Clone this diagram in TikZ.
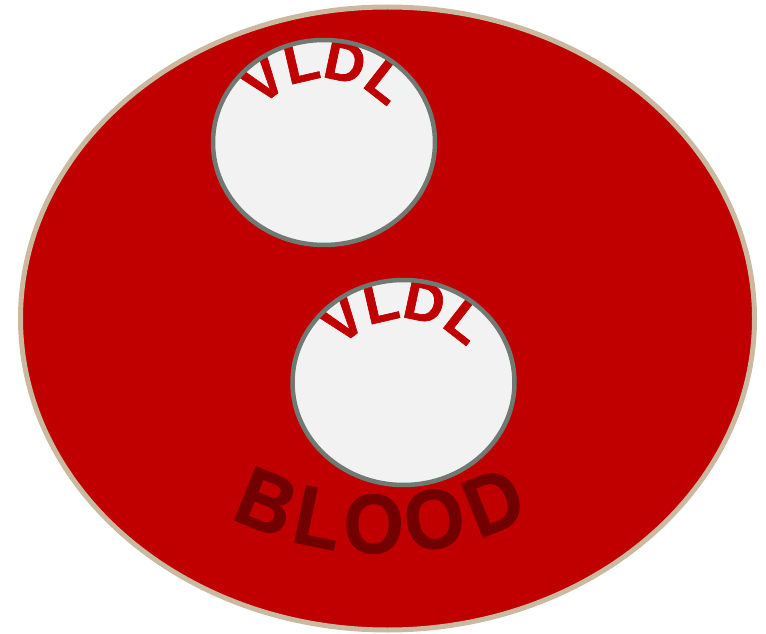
\documentclass[tikz,border=0pt]{standalone}
\usepackage{fontspec}
\setmainfont{Liberation Sans}
\newfontfamily\heavyfont[FakeBold=1.2]{Liberation Sans Bold}
\definecolor{bloodred}{HTML}{C00000}
\definecolor{darkblood}{HTML}{730000}
\definecolor{rimtan}{HTML}{C9B9A1}
\definecolor{cellgray}{HTML}{6E7A72}
\definecolor{cellfill}{HTML}{F2F2F2}
\tikzset{
  vldlletter/.style={inner sep=0pt, outer sep=0pt, anchor=base, text=bloodred,
    font=\heavyfont\fontsize{56}{56}\selectfont},
  bloodletter/.style={inner sep=0pt, outer sep=0pt, anchor=base, text=darkblood,
    font=\heavyfont\fontsize{84}{84}\selectfont},
  cellrim/.style={draw=cellgray, line width=4.5pt},
}
\begin{document}
\begin{tikzpicture}[x=1pt,y=1pt]
\useasboundingbox (0,0) rectangle (766,633);
% blood
\fill[bloodred] (387.5,314.5) ellipse [x radius=367, y radius=311.5];
\draw[rimtan, line width=5pt] (387.5,314.5) ellipse [x radius=367, y radius=311.5];
% cells
\coordinate (c1) at (324,490.5);
\coordinate (c2) at (403.5,250.5);
\coordinate (a1) at (324,472);
\coordinate (a2) at (403.5,232);
\fill[cellfill] (c1) ellipse [x radius=111, y radius=102.5];
\fill[cellfill] (c2) ellipse [x radius=111, y radius=102.5];
% VLDL labels
\node[vldlletter, rotate=37]  (v1a) at ([shift={(127:82)}]a1) {V};
\node[vldlletter, rotate=13]  (v1b) at ([shift={(103:82)}]a1) {L};
\node[vldlletter, rotate=-12] (v1c) at ([shift={(78:82)}]a1) {D};
\node[vldlletter, rotate=-38] (v1d) at ([shift={(52:82)}]a1) {L};
\node[vldlletter, rotate=37]  (v2a) at ([shift={(127:82)}]a2) {V};
\node[vldlletter, rotate=13]  (v2b) at ([shift={(103:82)}]a2) {L};
\node[vldlletter, rotate=-12] (v2c) at ([shift={(78:82)}]a2) {D};
\node[vldlletter, rotate=-38] (v2d) at ([shift={(52:82)}]a2) {L};
\draw[cellrim] (c1) ellipse [x radius=111, y radius=102.5];
\draw[cellrim] (c2) ellipse [x radius=111, y radius=102.5];
% BLOOD label
\coordinate (bc) at (380,412);
\node[bloodletter, rotate=-22, xscale=0.92]   (b1) at ([shift={(248:332)}]bc) {B};
\node[bloodletter, rotate=-11.7, xscale=0.92] (b2) at ([shift={(258.3:332)}]bc) {L};
\node[bloodletter, rotate=-1.2, xscale=0.92]  (b3) at ([shift={(268.8:332)}]bc) {O};
\node[bloodletter, rotate=10.3, xscale=0.92]  (b4) at ([shift={(280.3:332)}]bc) {O};
\node[bloodletter, rotate=22, xscale=0.92]    (b5) at ([shift={(292:332)}]bc) {D};
\end{tikzpicture}
\end{document}
